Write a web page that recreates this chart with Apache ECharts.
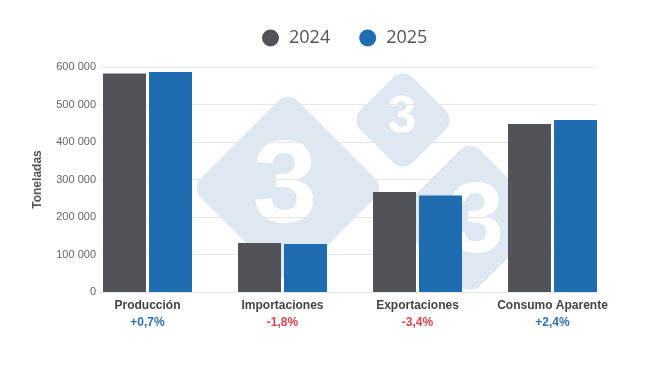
<!DOCTYPE html>
<html><head><meta charset="utf-8">
<script src="https://cdn.jsdelivr.net/npm/echarts@6/dist/echarts.min.js"></script>
<style>html,body{margin:0;padding:0;background:#fff}#c{width:650px;height:366px}</style>
</head><body><div id="c"></div>
<script>
const categories = ['Producción', 'Importaciones', 'Exportaciones', 'Consumo Aparente'];
const changes = ['+0,7%', '-1,8%', '-3,4%', '+2,4%'];
const values2024 = [583000, 130500, 266500, 448000];
const values2025 = [587000, 128000, 257500, 458500];
const yTicks = { min: 0, max: 600000, interval: 100000 };
const seriesNames = ['2024', '2025'];

const chart = echarts.init(document.getElementById('c'), null, {renderer: 'canvas'});
function diamond(cx, cy, s, fs, tx, ty) {
  return [
    {type: 'rect', x: cx, y: cy, rotation: Math.PI / 4, z: -10,
     shape: {x: -s / 2, y: -s / 2, width: s, height: s, r: 14},
     style: {fill: '#dde8f2'}},
    {type: 'text', x: tx, y: ty, z: -9,
     style: {text: '3', fill: '#ffffff', font: 'bold ' + fs + 'px "Liberation Sans", Arial, sans-serif',
             textAlign: 'center', textVerticalAlign: 'middle'}}
  ];
}
const option = {
  animation: false,
  legend: {
    top: 29, left: 262, padding: 0, icon: 'circle', itemWidth: 17, itemHeight: 17, itemGap: 29,
    textStyle: {fontSize: 18, color: '#555', fontFamily: 'Open Sans', padding: [0, 0, 0, 5]},
    data: seriesNames
  },
  grid: [
    {left: 80, right: 30, top: 67, bottom: 74},
    {left: 100, right: 53, top: 67, bottom: 74}
  ],
  xAxis: [
    {type: 'category', gridIndex: 0, data: categories,
     axisLine: {show: false}, axisTick: {show: false},
     axisLabel: {
       margin: 5, interval: 0,
       formatter: function (v, i) {
         const c = changes[i];
         return '{n|' + v + '}\n' + (c.charAt(0) === '+' ? '{p|' : '{m|') + c + '}';
       },
       rich: {
         n: {fontSize: 12, fontWeight: 'bold', color: '#444', fontFamily: 'Liberation Sans', lineHeight: 17},
         p: {fontSize: 12, fontWeight: 'bold', color: '#2f72b5', fontFamily: 'Liberation Sans', lineHeight: 17},
         m: {fontSize: 12, fontWeight: 'bold', color: '#e0454b', fontFamily: 'Liberation Sans', lineHeight: 17}
       }
     }},
    {type: 'category', gridIndex: 1, data: [''], show: false}
  ],
  yAxis: [
    {type: 'value', gridIndex: 0, min: yTicks.min, max: yTicks.max, interval: yTicks.interval,
     axisLabel: {show: false}, splitLine: {show: false}, axisLine: {show: false}, axisTick: {show: false}},
    {type: 'value', gridIndex: 1, min: yTicks.min, max: yTicks.max, interval: yTicks.interval,
     name: 'Toneladas', nameLocation: 'middle', nameRotate: 90, nameGap: 56,
     nameTextStyle: {fontSize: 12, fontWeight: 'bold', color: '#555', fontFamily: 'Liberation Sans'},
     axisLabel: {margin: 4, fontSize: 11, color: '#666', fontFamily: 'Liberation Sans',
       formatter: function (v) { return String(v).replace(/\B(?=(\d{3})+(?!\d))/g, ' '); }},
     splitLine: {lineStyle: {color: '#e6e6e6', width: 1}}, axisLine: {show: false}, axisTick: {show: false}}
  ],
  series: [
    {name: seriesNames[0], type: 'bar', xAxisIndex: 0, yAxisIndex: 0, data: values2024,
     barWidth: 43, barGap: '7%', itemStyle: {color: '#515358'}},
    {name: seriesNames[1], type: 'bar', xAxisIndex: 0, yAxisIndex: 0, data: values2025,
     barWidth: 43, itemStyle: {color: '#1f6cb0'}}
  ],
  color: ['#515358', '#1f6cb0'],
  graphic: [].concat(
    diamond(288, 188, 137, 116, 285, 190),
    diamond(403, 120, 74, 52, 402, 118),
    diamond(470, 218, 110, 100, 476, 224)
  )
};
chart.setOption(option);
</script></body></html>
